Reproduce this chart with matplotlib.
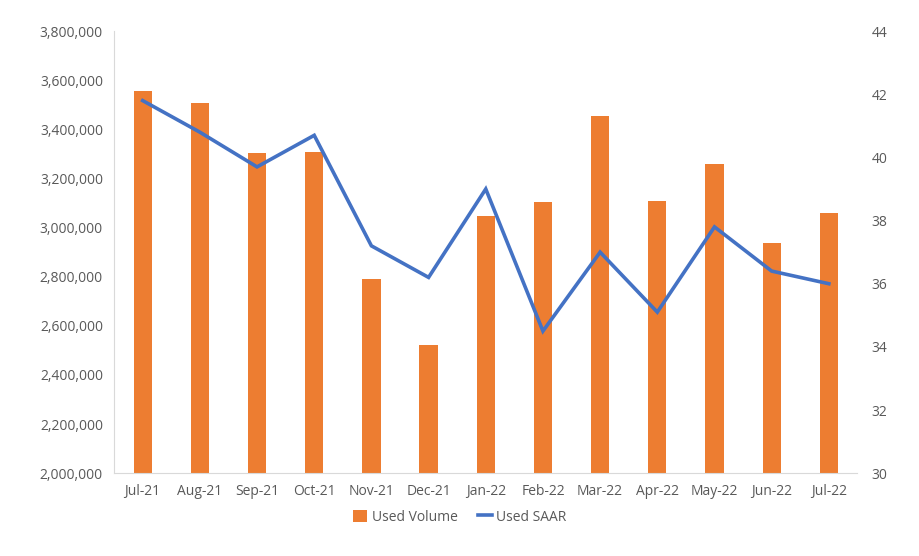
import matplotlib.pyplot as plt
from matplotlib.ticker import FuncFormatter

months = ["Jul-21", "Aug-21", "Sep-21", "Oct-21", "Nov-21", "Dec-21", "Jan-22",
          "Feb-22", "Mar-22", "Apr-22", "May-22", "Jun-22", "Jul-22"]
used_volume = [3556000, 3509000, 3304000, 3309000, 2791000, 2522000, 3046000,
               3106000, 3456000, 3110000, 3259000, 2937000, 3061000]
used_saar = [41.8, 40.8, 39.7, 40.7, 37.2, 36.2, 39.0, 34.5, 37.0, 35.1, 37.8,
             36.4, 36.0]

plt.rcParams['font.family'] = ['Open Sans', 'DejaVu Sans']
grey = '#595959'

fig = plt.figure(figsize=(9.2, 5.56), dpi=100)
ax = fig.add_axes([0.124, 0.149, 0.808, 0.795])
x = range(len(months))
bars = ax.bar(x, used_volume, width=0.32, color='#ED7D31', label='Used Volume',
              zorder=2)
ax.set_ylim(2000000, 3800000)
ax.set_yticks(range(2000000, 3800001, 200000))
ax.yaxis.set_major_formatter(FuncFormatter(lambda v, p: "{:,.0f}".format(v)))
ax.set_xlim(-0.5, len(months) - 0.5)
ax.set_xticks(list(x))
ax.set_xticklabels(months)

ax2 = ax.twinx()
line, = ax2.plot(x, used_saar, color='#4472C4', lw=2.6, label='Used SAAR',
                 solid_joinstyle='miter', zorder=3)
ax2.set_ylim(30, 44)
ax2.set_yticks(range(30, 45, 2))

for a in (ax, ax2):
    a.tick_params(length=0, labelsize=10, labelcolor=grey)
    for s in a.spines.values():
        s.set_visible(False)
ax.spines['left'].set_visible(True)
ax.spines['left'].set_color('#D9D9D9')
ax.spines['bottom'].set_visible(True)
ax.spines['bottom'].set_color('#D9D9D9')
ax.tick_params(axis='y', pad=8)
ax.tick_params(axis='x', pad=8)
ax2.tick_params(axis='y', pad=10)

fig.legend([bars, line], ['Used Volume', 'Used SAAR'], loc='center',
           bbox_to_anchor=(0.5, 0.07), ncol=2, frameon=False, fontsize=10,
           labelcolor=grey, handlelength=1.0, handleheight=1.0,
           handletextpad=0.3, columnspacing=1.5)

fig.savefig('out.png', dpi=100)
